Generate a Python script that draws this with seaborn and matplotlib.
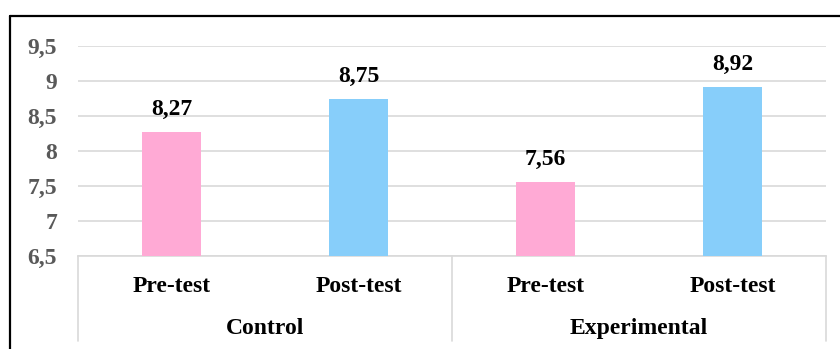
import matplotlib
matplotlib.use("Agg")
import matplotlib.pyplot as plt
from matplotlib.lines import Line2D
from matplotlib.transforms import blended_transform_factory
import seaborn as sns
import pandas as pd

# Mean scores per group and test
groups = ["Control", "Experimental"]
tests = ["Pre-test", "Post-test"]
scores = [8.27, 8.75, 7.56, 8.92]
score_labels = ["8,27", "8,75", "7,56", "8,92"]
ytick_values = [6.5, 7, 7.5, 8, 8.5, 9, 9.5]
ytick_labels = ["6,5", "7", "7,5", "8", "8,5", "9", "9,5"]

bar_keys = [f"{g} {t}" for g in groups for t in tests]
df = pd.DataFrame({
    "key": bar_keys,
    "test": [t for g in groups for t in tests],
    "score": scores,
})

sns.set_theme(style="white")
plt.rcParams["font.family"] = ["Liberation Serif", "DejaVu Serif"]
plt.rcParams["font.weight"] = "bold"

FS = 17

W, H = 840, 349
fig = plt.figure(figsize=(W / 100, H / 100), dpi=100)
fig.patch.set_facecolor("white")

x0, x1, ytop, ybot = 78, 826, 46, 256
ax = fig.add_axes([x0 / W, (H - ybot) / H, (x1 - x0) / W, (ybot - ytop) / H])

palette = {"Pre-test": "#FFAAD5", "Post-test": "#87CEFA"}
sns.barplot(data=df, x="key", y="score", hue="test", palette=palette,
            order=bar_keys, dodge=False, width=0.315, ax=ax,
            legend=False, saturation=1, linewidth=0, zorder=3)

ax.set_ylim(6.5, 9.5)
ax.set_xlim(-0.5, 3.5)
ax.set_yticks(ytick_values)
ax.set_yticklabels(ytick_labels)
ax.tick_params(axis="y", length=0, pad=15, labelsize=FS, labelcolor="#595959")
ax.set_xticks([])
ax.set_xlabel("")
ax.set_ylabel("")
for lbl in ax.get_yticklabels():
    lbl.set_fontweight("bold")

ax.grid(axis="y", color="#d9d9d9", linewidth=1.2, zorder=0)
for side in ["top", "right", "left"]:
    ax.spines[side].set_visible(False)
ax.spines["bottom"].set_color("#d9d9d9")
ax.spines["bottom"].set_linewidth(1.2)

# value labels above bars
for i, (v, s) in enumerate(zip(scores, score_labels)):
    ax.annotate(s, (i, v), xytext=(0, 12), textcoords="offset points",
                ha="center", va="baseline", fontsize=FS,
                fontweight="bold", color="black")

# category labels under the axis
trans = blended_transform_factory(ax.transData, fig.transFigure)
for i, key in enumerate(bar_keys):
    ax.text(i, (H - 292.5) / H, df["test"][i], transform=trans,
            ha="center", va="baseline", fontsize=FS, fontweight="bold",
            color="black", clip_on=False)
for j, g in enumerate(groups):
    ax.text(2 * j + 0.5, (H - 334) / H, g, transform=trans,
            ha="center", va="baseline", fontsize=FS, fontweight="bold",
            color="black", clip_on=False)

# separators of the category axis
for xp in [x0, (x0 + x1) / 2, x1]:
    fig.add_artist(Line2D([xp / W, xp / W], [(H - ybot) / H, (H - 341) / H],
                          transform=fig.transFigure, color="#d9d9d9", lw=1.2))

# outer frame
fig.add_artist(Line2D([9.5 / W, 1.0], [(H - 16) / H, (H - 16) / H],
                      transform=fig.transFigure, color="black", lw=1.6))
fig.add_artist(Line2D([9.5 / W, 9.5 / W], [0, (H - 16) / H],
                      transform=fig.transFigure, color="black", lw=1.6))

fig.savefig("out.png", dpi=100, facecolor="white")
